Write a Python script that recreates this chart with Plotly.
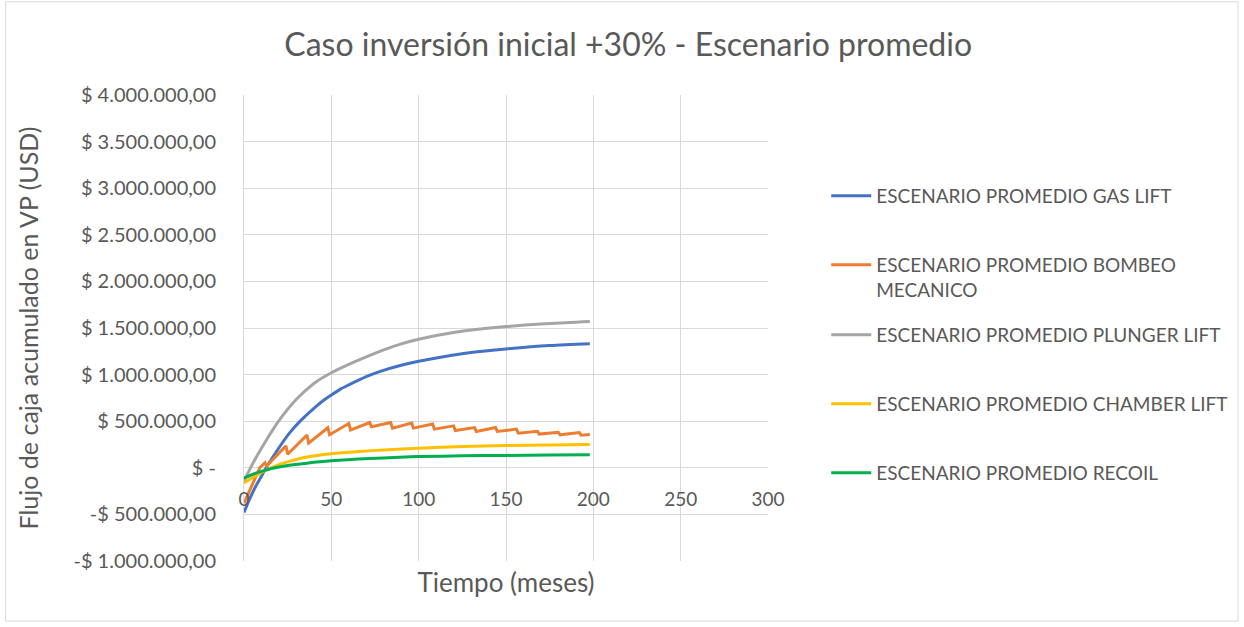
import plotly.graph_objects as go

# months / accumulated cash flow (USD)
gas_lift_x = [0, 3, 6, 10, 13, 20, 26, 32, 40, 46, 50, 55, 60, 70, 78, 90, 100, 115, 130, 150, 175, 198]
gas_lift_y = [-480000, -345000, -225000, -90000, 11000, 215000, 372000, 498000, 638000, 730000, 782000,
              842000, 890000, 978000, 1034000, 1100000, 1143000, 1195000, 1237000, 1275000, 1312000, 1332000]

bombeo_x = [0, 3, 6, 9, 12, 13, 24, 25, 36, 37, 48, 49, 60, 61, 72, 73, 84, 85, 96, 97, 108, 109,
            120, 121, 132, 133, 144, 145, 156, 157, 168, 169, 180, 181, 192, 193, 198]
bombeo_y = [-380000, -250000, -120000, 0, 55000, 20000, 235000, 145000, 350000, 265000, 430000, 355000,
            475000, 405000, 486000, 440000, 486000, 426000, 480000, 426000, 469000, 415000,
            450000, 400000, 432000, 390000, 432000, 390000, 415000, 372000, 392000, 362000,
            380000, 354000, 378000, 350000, 358000]

plunger_x = [0, 5, 10, 20, 30, 40, 50, 60, 70, 80, 90, 100, 120, 150, 175, 198]
plunger_y = [-140000, 45000, 210000, 505000, 735000, 905000, 1020000, 1110000, 1190000, 1265000,
             1330000, 1380000, 1452000, 1515000, 1548000, 1570000]

chamber_x = [0, 4, 8, 12, 20, 28, 36, 50, 66, 80, 100, 125, 150, 175, 198]
chamber_y = [-164000, -115000, -70000, -30000, 35000, 80000, 115000, 150000, 175000, 192000, 211000,
             228000, 238000, 245000, 250000]

recoil_x = [0, 5, 10, 17, 25, 36, 50, 72, 89, 100, 125, 150, 175, 198]
recoil_y = [-111000, -70000, -38000, -3000, 25000, 50000, 75000, 100000, 113000, 120000, 128000,
            133000, 137000, 140000]

x_ticks = [0, 50, 100, 150, 200, 250, 300]
y_ticks = [-1000000, -500000, 0, 500000, 1000000, 1500000, 2000000, 2500000, 3000000, 3500000, 4000000]
y_ticktext = ['-$ 1.000.000,00', '-$ 500.000,00', '$ -', '$ 500.000,00', '$ 1.000.000,00',
              '$ 1.500.000,00', '$ 2.000.000,00', '$ 2.500.000,00', '$ 3.000.000,00',
              '$ 3.500.000,00', '$ 4.000.000,00']

FONT = 'Lato'
GREY = '#595959'

series = [
    ('ESCENARIO PROMEDIO GAS LIFT', gas_lift_x, gas_lift_y, '#4472C4', 'legend', 'spline'),
    ('ESCENARIO PROMEDIO BOMBEO<br>MECANICO', bombeo_x, bombeo_y, '#ED7D31', 'legend2', 'linear'),
    ('ESCENARIO PROMEDIO PLUNGER LIFT', plunger_x, plunger_y, '#A5A5A5', 'legend3', 'spline'),
    ('ESCENARIO PROMEDIO CHAMBER LIFT', chamber_x, chamber_y, '#FFC000', 'legend4', 'spline'),
    ('ESCENARIO PROMEDIO RECOIL', recoil_x, recoil_y, '#00B050', 'legend5', 'spline'),
]

fig = go.Figure()
for name, xs, ys, color, leg, shape in series:
    fig.add_trace(go.Scatter(x=xs, y=ys, mode='lines', name=name, legend=leg,
                             line=dict(color=color, width=3, shape=shape, smoothing=0.8)))

# one legend per entry so the spacing matches the Excel layout
legend_ys = {'legend': (0.7833, 'middle'), 'legend2': (0.676, 'top'), 'legend3': (0.485, 'middle'),
             'legend4': (0.337, 'middle'), 'legend5': (0.189, 'middle')}
legend_cfg = {}
for key, (ly, anchor) in legend_ys.items():
    legend_cfg[key] = dict(x=1.109, y=ly, xanchor='left', yanchor=anchor, valign='top',
                           bgcolor='rgba(0,0,0,0)', itemwidth=40,
                           font=dict(family=FONT, size=19, color=GREY))

fig.update_layout(
    width=1244, height=627,
    paper_bgcolor='white', plot_bgcolor='white',
    margin=dict(l=244, r=475, t=95, b=66),
    font=dict(family=FONT, color=GREY),
    title=dict(text='Caso inversión inicial +30% - Escenario promedio', x=0.505, xref='container',
               xanchor='center', y=0.928, yanchor='middle',
               font=dict(family=FONT, size=32, color=GREY)),
    showlegend=True,
    **legend_cfg,
)

fig.update_xaxes(range=[0, 300], tickvals=x_ticks, showgrid=True, gridcolor='#d9d9d9', gridwidth=1,
                 zeroline=False, showline=False, anchor='free', position=0.2, ticks='',
                 ticklabelstandoff=18, tickfont=dict(family=FONT, size=19, color=GREY),
                 title=dict(text='Tiempo (meses)', standoff=65, font=dict(family=FONT, size=26, color=GREY)))
fig.update_yaxes(range=[-1000000, 4000000], tickvals=y_ticks, ticktext=y_ticktext, showgrid=True,
                 gridcolor='#d9d9d9', gridwidth=1, zeroline=True, zerolinecolor='#d9d9d9', zerolinewidth=1,
                 showline=True, linecolor='#d9d9d9', ticks='', ticklabelstandoff=23,
                 tickfont=dict(family=FONT, size=20, color=GREY),
                 title=dict(text='Flujo de caja acumulado en VP (USD)', standoff=27,
                            font=dict(family=FONT, size=25, color=GREY)))

# chart frame
fig.add_shape(type='rect', xref='paper', yref='paper', x0=-0.455, x1=1.897, y0=-0.129, y1=1.2,
              line=dict(color='#d9d9d9', width=1), layer='below')

fig.write_html("out.html", config={'displayModeBar': False},
               post_script="document.body.style.margin='0px';")
